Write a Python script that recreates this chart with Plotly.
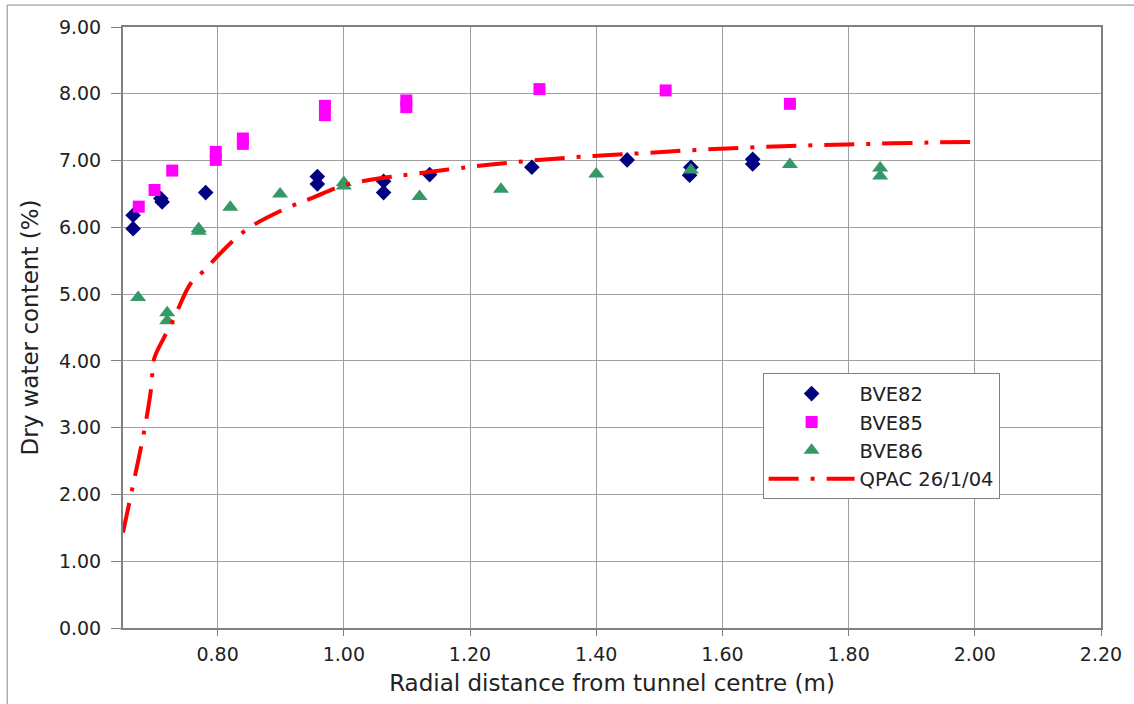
import plotly.graph_objects as go

# BVE82 (navy diamonds)
bve82_x = [0.666, 0.666, 0.710, 0.712, 0.781, 0.958, 0.958, 1.063, 1.063, 1.136, 1.298, 1.449, 1.548, 1.550, 1.648, 1.648]
bve82_y = [6.18, 5.98, 6.43, 6.38, 6.52, 6.76, 6.65, 6.69, 6.52, 6.79, 6.90, 7.01, 6.78, 6.90, 7.02, 6.95]

# BVE85 (magenta squares)
bve85_x = [0.675, 0.700, 0.728, 0.797, 0.797, 0.840, 0.840, 0.970, 0.970, 1.099, 1.099, 1.310, 1.510, 1.707]
bve85_y = [6.31, 6.56, 6.85, 7.13, 7.01, 7.33, 7.25, 7.82, 7.68, 7.90, 7.80, 8.07, 8.05, 7.85]

# BVE86 (green triangles)
bve86_x = [0.674, 0.720, 0.720, 0.770, 0.770, 0.820, 0.899, 1.000, 1.000, 1.120, 1.249, 1.400, 1.550, 1.707, 1.850, 1.850]
bve86_y = [4.95, 4.72, 4.60, 5.98, 5.94, 6.30, 6.50, 6.67, 6.62, 6.46, 6.57, 6.80, 6.86, 6.94, 6.89, 6.77]

# QPAC 26/1/04 model curve
qpac_x = [0.650, 0.665, 0.684, 0.695, 0.699, 0.715, 0.729, 0.758, 0.782, 0.797, 0.845, 0.903, 0.950,
          1.000, 1.077, 1.103, 1.195, 1.287, 1.380, 1.472, 1.561, 1.653, 1.746, 1.837, 1.929, 2.000]
qpac_y = [1.43, 2.10, 2.97, 3.62, 4.02, 4.35, 4.60, 5.17, 5.38, 5.54, 5.96, 6.26, 6.44,
          6.63, 6.76, 6.79, 6.90, 6.99, 7.06, 7.11, 7.16, 7.20, 7.23, 7.25, 7.27, 7.28]

x_ticks = [0.80, 1.00, 1.20, 1.40, 1.60, 1.80, 2.00, 2.20]
y_ticks = [0, 1, 2, 3, 4, 5, 6, 7, 8, 9]

FONT = "DejaVu Sans"

fig = go.Figure()
fig.add_trace(go.Scatter(x=bve82_x, y=bve82_y, mode="markers", name="BVE82",
                         marker=dict(symbol="diamond", size=12, color="#000080")))
fig.add_trace(go.Scatter(x=bve85_x, y=bve85_y, mode="markers", name="BVE85",
                         marker=dict(symbol="square", size=12, color="#FF00FF")))
fig.add_trace(go.Scatter(x=bve86_x, y=bve86_y, mode="markers", name="BVE86",
                         marker=dict(symbol="triangle-up", size=14, color="#339966")))
fig.add_trace(go.Scatter(x=qpac_x, y=qpac_y, mode="lines", name="QPAC 26/1/04",
                         line=dict(color="#FF0000", width=4, dash="30px,12px,4px,12px", shape="spline")))

axis_common = dict(showgrid=True, gridcolor="#a0a0a0", gridwidth=1,
                   showline=True, linecolor="#808080", linewidth=2, mirror=True,
                   ticks="outside", tickcolor="#808080", tickwidth=1,
                   tickfont=dict(family=FONT, size=19, color="#222"),
                   zeroline=False)

fig.update_xaxes(range=[0.65, 2.20], tickvals=x_ticks, ticktext=[f"{v:.2f}" for v in x_ticks],
                 ticklen=6, ticklabelstandoff=2,
                 title=dict(text="Radial distance from tunnel centre (m)", font=dict(family=FONT, size=23, color="#222"), standoff=11),
                 **axis_common)
fig.update_yaxes(range=[0, 9], tickvals=y_ticks, ticktext=[f"{v:.2f}" for v in y_ticks],
                 ticklen=10, ticklabelstandoff=6,
                 title=dict(text="Dry water content (%)", font=dict(family=FONT, size=23, color="#222"), standoff=14),
                 **axis_common)

fig.update_layout(
    width=1134, height=704,
    margin=dict(l=123, r=31, t=27, b=75),
    paper_bgcolor="white", plot_bgcolor="white",
    font=dict(family=FONT, color="#222"),
    legend=dict(x=0.654, y=0.4236, xanchor="left", yanchor="top",
                bordercolor="#808080", borderwidth=1, bgcolor="white",
                font=dict(family=FONT, size=19.5, color="#222"),
                itemwidth=86, tracegroupgap=0),
    showlegend=True,
    shapes=[
        dict(type="line", xref="paper", yref="paper", x0=-0.1184, x1=1.04, y0=1.0365, y1=1.0365,
             line=dict(color="#888", width=1)),
        dict(type="line", xref="paper", yref="paper", x0=-0.1184, x1=-0.1184, y0=1.0365, y1=-0.15,
             line=dict(color="#888", width=1)),
    ],
)

fig.write_html("out.html", config={"displayModeBar": False},
               post_script="document.body.style.margin='0px';document.body.style.overflow='hidden';")
